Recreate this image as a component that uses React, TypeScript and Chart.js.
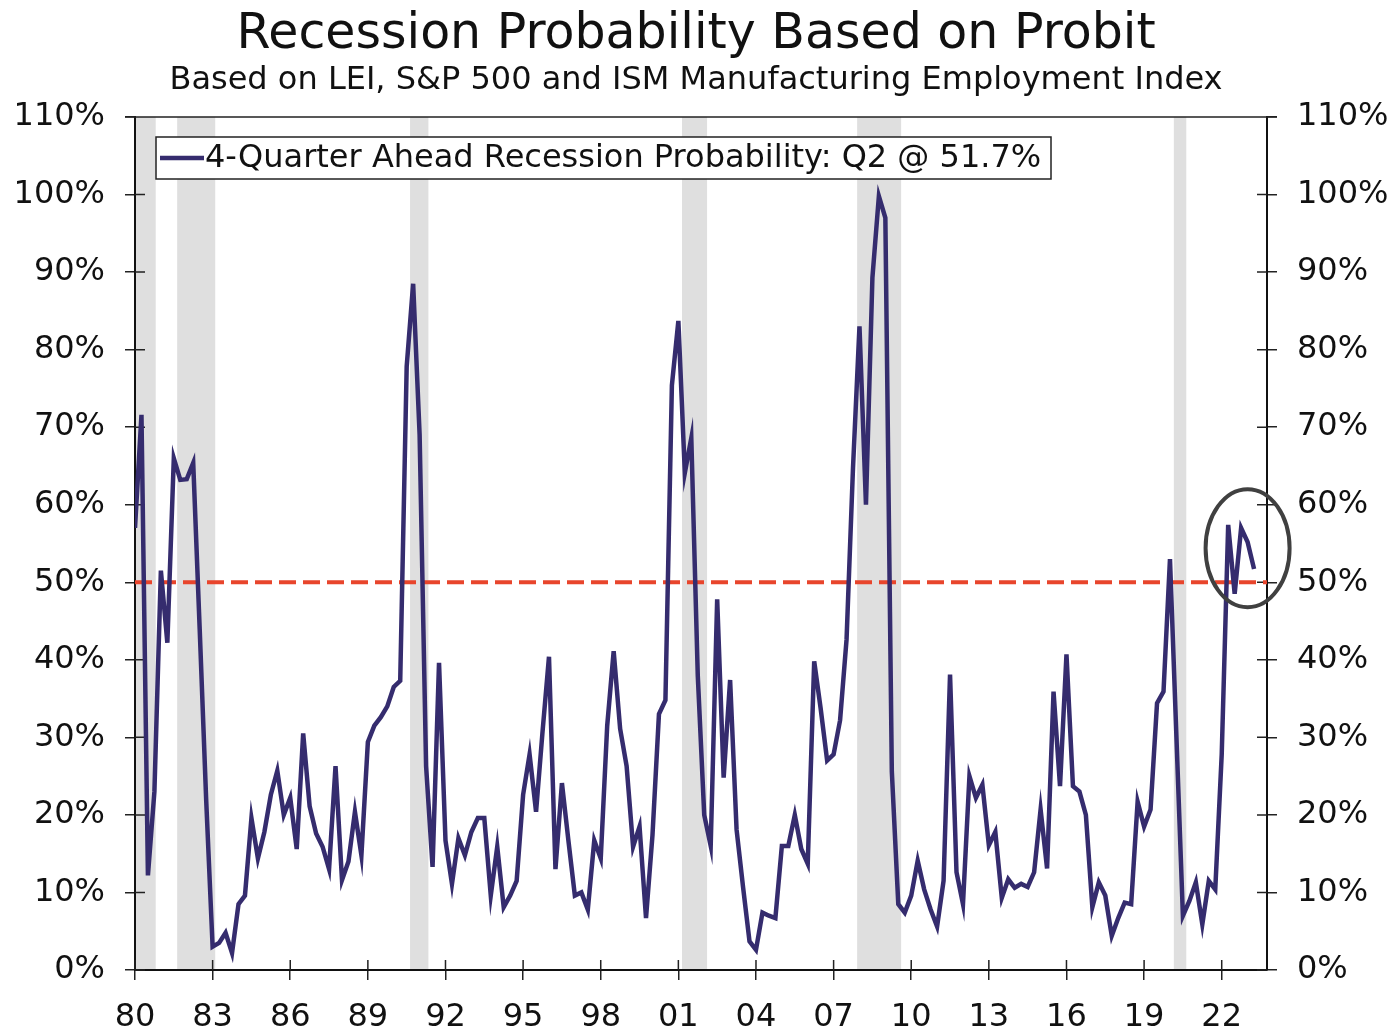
import React, { useEffect, useRef } from "react";
import { Chart, registerables } from "chart.js";

Chart.register(...registerables);

const titleText = "Recession Probability Based on Probit";
const subtitleText = "Based on LEI, S&P 500 and ISM Manufacturing Employment Index";
const legendLabel = "4-Quarter Ahead Recession Probability: Q2 @ 51.7%";

const startYear = 1980;
const xMin = 1980;
const xMax = 2023.75;

// Quarterly probability (%), 1980 Q1 .. 2023 Q2
const probability = [
  57, 71.6, 12.2, 23,
  51.5, 42.2, 66, 63.2,
  63.3, 65.4, 44, 22,
  3, 3.5, 4.8, 2.2,
  8.5, 9.6, 19.6, 14.4,
  17.8, 22.6, 25.7, 20,
  22.2, 15.6, 30.5, 21.1,
  17.6, 15.9, 13, 26.3,
  11.6, 14, 20.4, 14.8,
  29.4, 31.5, 32.6, 34,
  36.5, 37.3, 77.8, 88.5,
  69, 26.3, 13.3, 39.6,
  16.7, 11.1, 17, 14.8,
  17.8, 19.6, 19.6, 9.6,
  15.9, 8.1, 9.6, 11.5,
  22.6, 27.8, 20.4, 30.7,
  40.4, 13, 24.1, 16.7,
  9.6, 10, 7.8, 16.7,
  14.4, 31.5, 41.1, 31.1,
  26.3, 15.9, 18.5, 6.7,
  17.4, 33, 34.8, 75.4,
  83.7, 64.1, 68.6, 38,
  20, 16, 47.8, 24.8,
  37.4, 18.1, 10.7, 3.7,
  2.6, 7.4, 7, 6.7,
  16, 16, 20, 15.6,
  13.7, 39.8, 33.7, 27,
  27.8, 32.2, 42.6, 64.8,
  83, 60, 89.3, 99.8,
  97, 25.6, 8.5, 7.4,
  9.6, 14.1, 10.4, 7.8,
  5.6, 11.5, 38.1, 12.6,
  8.5, 25, 22.2, 23.9,
  16.1, 17.8, 9.3, 11.7,
  10.6, 11.1, 10.7, 12.6,
  20.7, 13.1, 35.9, 23.7,
  40.7, 23.7, 23, 20,
  8.1, 11.3, 9.6, 4.4,
  6.7, 8.7, 8.5, 21.7,
  18.5, 20.7, 34.4, 35.9,
  53, 30, 7, 8.9,
  11.3, 5.9, 11.5, 10.4,
  27.8, 57.4, 48.5, 57,
  55.2, 51.7,
];

const xTickYears = [1980, 1983, 1986, 1989, 1992, 1995, 1998, 2001, 2004, 2007, 2010, 2013, 2016, 2019, 2022];
const yTickValues = [0, 10, 20, 30, 40, 50, 60, 70, 80, 90, 100, 110];

const recessionStarts = [1980.02, 1981.63, 1990.63, 2001.14, 2007.91, 2020.15];
const recessionEnds = [1980.8, 1983.1, 1991.34, 2002.11, 2009.61, 2020.63];

const thresholdValue = 50;
const highlightCenter = { x: 2023.0, y: 54.4 };

const NAVY = "#352C6E";
const RED = "#E8452C";
const BAND = "#DFDFDF";
const INK = "#111111";
const FONT = "'DejaVu Sans', Verdana, sans-serif";

export default function App() {
  const canvasRef = useRef<HTMLCanvasElement | null>(null);

  useEffect(() => {
    const canvas = canvasRef.current;
    if (!canvas) return;

    const lineData = probability.map((v, i) => ({ x: startYear + i * 0.25, y: v }));
    const thresholdData = [
      { x: xMin, y: thresholdValue },
      { x: xMax, y: thresholdValue },
    ];

    const decorPlugin = {
      id: "decor",
      beforeDraw(chart: any) {
        const { ctx, chartArea, scales } = chart;
        ctx.save();
        ctx.fillStyle = "#ffffff";
        ctx.fillRect(0, 0, chart.width, chart.height);
        // recession bands
        ctx.fillStyle = BAND;
        for (let i = 0; i < recessionStarts.length; i++) {
          const x0 = scales.x.getPixelForValue(recessionStarts[i]);
          const x1 = scales.x.getPixelForValue(recessionEnds[i]);
          ctx.fillRect(x0, chartArea.top, x1 - x0, chartArea.bottom - chartArea.top);
        }
        // titles
        ctx.fillStyle = INK;
        ctx.textAlign = "center";
        ctx.textBaseline = "alphabetic";
        ctx.font = `49px ${FONT}`;
        ctx.fillText(titleText, chart.width / 2, 48);
        ctx.font = `32px ${FONT}`;
        ctx.fillText(subtitleText, chart.width / 2, 89);
        ctx.restore();
      },
      beforeDatasetsDraw(chart: any) {
        const { ctx, chartArea, scales } = chart;
        ctx.save();
        ctx.strokeStyle = "#222";
        ctx.lineWidth = 1.5;
        ctx.beginPath();
        // top frame line
        ctx.moveTo(chartArea.left - 10, chartArea.top);
        ctx.lineTo(chartArea.right + 10, chartArea.top);
        // inner y ticks
        for (const v of yTickValues) {
          const y = scales.y.getPixelForValue(v);
          ctx.moveTo(chartArea.left, y);
          ctx.lineTo(chartArea.left + 10, y);
          ctx.moveTo(chartArea.right - 10, y);
          ctx.lineTo(chartArea.right, y);
        }
        // inner x ticks
        for (const v of xTickYears) {
          const x = scales.x.getPixelForValue(v);
          ctx.moveTo(x, chartArea.bottom);
          ctx.lineTo(x, chartArea.bottom - 10);
        }
        ctx.stroke();
        ctx.restore();
      },
      afterDraw(chart: any) {
        const { ctx, scales } = chart;
        ctx.save();
        // legend
        const lx = 156, ly = 137, lw = 895, lh = 42;
        ctx.fillStyle = "#ffffff";
        ctx.fillRect(lx, ly, lw, lh);
        ctx.strokeStyle = "#222";
        ctx.lineWidth = 1.5;
        ctx.strokeRect(lx, ly, lw, lh);
        ctx.strokeStyle = NAVY;
        ctx.lineWidth = 4.5;
        ctx.beginPath();
        ctx.moveTo(lx + 4, ly + lh / 2);
        ctx.lineTo(lx + 48, ly + lh / 2);
        ctx.stroke();
        ctx.fillStyle = INK;
        ctx.font = `32px ${FONT}`;
        ctx.textAlign = "left";
        ctx.textBaseline = "middle";
        ctx.fillText(legendLabel, lx + 49, ly + lh / 2 + 1);
        // highlight ellipse
        const cx = scales.x.getPixelForValue(highlightCenter.x);
        const cy = scales.y.getPixelForValue(highlightCenter.y);
        ctx.strokeStyle = "#404040";
        ctx.lineWidth = 4;
        ctx.beginPath();
        ctx.ellipse(cx, cy, 42, 59, 0, 0, Math.PI * 2);
        ctx.stroke();
        ctx.restore();
      },
    };

    const axisGrid = {
      drawOnChartArea: false,
      drawTicks: true,
      tickLength: 10,
      color: "#222",
      lineWidth: 1.5,
    };

    const chart = new Chart(canvas, {
      type: "line",
      data: {
        datasets: [
          {
            label: legendLabel,
            data: lineData,
            borderColor: NAVY,
            borderWidth: 4.5,
            pointRadius: 0,
            tension: 0,
            yAxisID: "y",
          },
          {
            label: "50%",
            data: thresholdData,
            borderColor: RED,
            borderWidth: 4,
            borderDash: [17, 7],
            pointRadius: 0,
            yAxisID: "y",
          },
        ],
      },
      options: {
        animation: false,
        responsive: true,
        maintainAspectRatio: false,
        devicePixelRatio: 1,
        layout: { padding: { top: 117, left: 0, right: 0, bottom: 0 } },
        plugins: {
          legend: { display: false },
          title: { display: false },
          tooltip: { enabled: false },
        },
        scales: {
          x: {
            type: "linear",
            min: xMin,
            max: xMax,
            afterBuildTicks: (s: any) => {
              s.ticks = xTickYears.map((v) => ({ value: v }));
            },
            afterFit: (s: any) => {
              s.height = 60;
            },
            grid: axisGrid,
            border: { display: true, color: "#111", width: 2 },
            ticks: {
              autoSkip: false,
              maxRotation: 0,
              padding: 18,
              color: INK,
              font: { size: 32, family: FONT },
              callback: (v: any) => String(Number(v) % 100).padStart(2, "0"),
            },
          },
          y: {
            position: "left",
            min: 0,
            max: 110,
            afterBuildTicks: (s: any) => {
              s.ticks = yTickValues.map((v) => ({ value: v }));
            },
            afterFit: (s: any) => {
              s.width = 135;
            },
            grid: axisGrid,
            border: { display: true, color: "#111", width: 2 },
            ticks: {
              padding: 20,
              color: INK,
              font: { size: 32, family: FONT },
              callback: (v: any) => `${v}%`,
            },
          },
          y2: {
            position: "right",
            min: 0,
            max: 110,
            afterBuildTicks: (s: any) => {
              s.ticks = yTickValues.map((v) => ({ value: v }));
            },
            afterFit: (s: any) => {
              s.width = 125;
            },
            grid: axisGrid,
            border: { display: true, color: "#111", width: 2 },
            ticks: {
              padding: 20,
              color: INK,
              font: { size: 32, family: FONT },
              callback: (v: any) => `${v}%`,
            },
          },
        },
      },
      plugins: [decorPlugin],
    });

    return () => chart.destroy();
  }, []);

  return (
    <div style={{ position: "fixed", left: 0, top: 0, width: 1392, height: 1030, background: "#fff" }}>
      <canvas ref={canvasRef} />
    </div>
  );
}
